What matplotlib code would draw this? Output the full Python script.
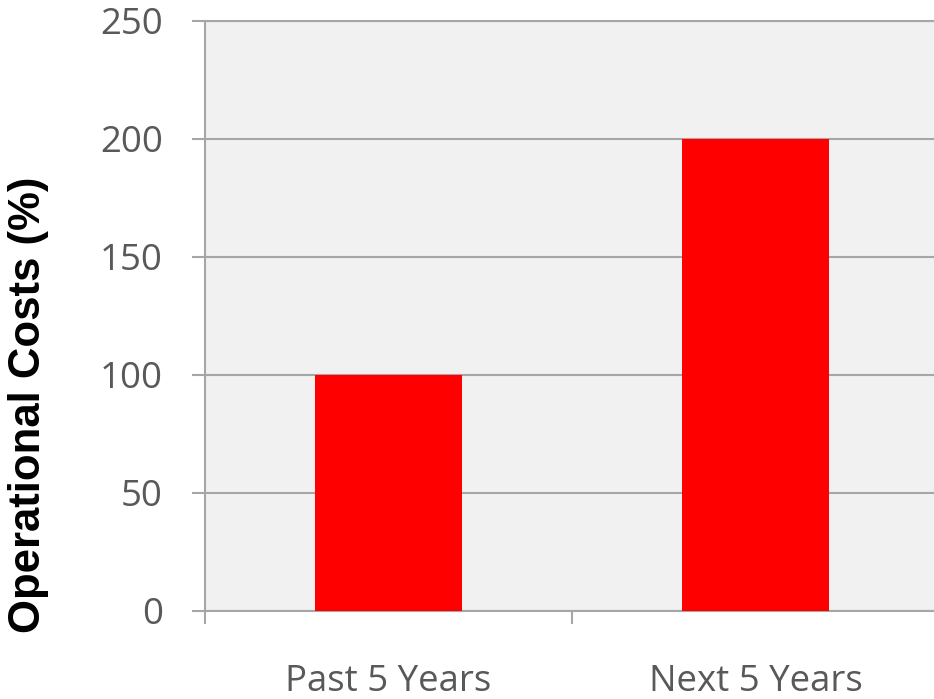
import matplotlib
matplotlib.use("Agg")
import matplotlib.pyplot as plt

categories = ["Past 5 Years", "Next 5 Years"]
values = [100, 200]
y_ticks = [0, 50, 100, 150, 200, 250]

GRID = "#a6a6a6"
TEXT = "#595959"

fig = plt.figure(figsize=(9.34, 6.99), dpi=100)
ax = fig.add_axes([205 / 934, 88 / 699, 734 / 934, 590 / 699])
ax.set_facecolor("#f1f1f1")

x = list(range(len(categories)))
ax.bar(x, values, width=0.4, color="#ff0000", zorder=3)

ax.set_xlim(-0.5, len(categories) - 0.5)
ax.set_ylim(0, 250)

ax.set_yticks(y_ticks)
ax.set_yticklabels([str(v) for v in y_ticks], fontfamily="Open Sans",
                   fontsize=26.4, color=TEXT)
ax.tick_params(axis="y", length=9.5, width=1.5, color=GRID, pad=21)

# category boundaries as major ticks, labels on minor ticks at the centres
ax.set_xticks([i - 0.5 for i in range(len(categories) + 1)])
ax.set_xticklabels([])
ax.tick_params(axis="x", which="major", length=9.5, width=1.5, color=GRID)
ax.set_xticks(x, minor=True)
ax.set_xticklabels(categories, minor=True, fontfamily="Open Sans",
                   fontsize=26.4, color=TEXT)
ax.tick_params(axis="x", which="minor", length=0, pad=38.5)

ax.yaxis.grid(True, color=GRID, linewidth=1.5, zorder=0)
ax.set_axisbelow(True)

for side in ["left", "bottom", "top"]:
    ax.spines[side].set_color(GRID)
    ax.spines[side].set_linewidth(1.5)
ax.spines["right"].set_visible(False)

ax.set_ylabel("Operational Costs (%)", fontfamily="Liberation Sans",
              fontweight="bold", fontsize=31.5, color="black")
ax.yaxis.set_label_coords(-0.213, 0.35)

fig.savefig("out.png", dpi=100)
